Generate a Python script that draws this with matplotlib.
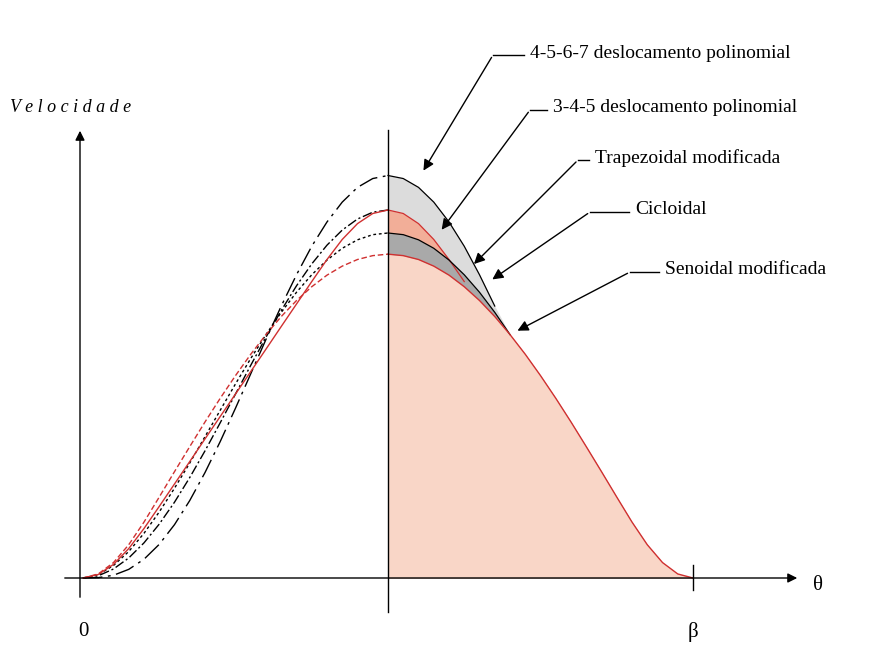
import numpy as np
import matplotlib.pyplot as plt

# normalised cam angle theta/beta, sampled every 0.025
t = np.linspace(0, 1, 41)

def sym(v):
    return np.array(v + v[-2::-1])

v4567 = sym([0.0, 0.002, 0.015, 0.047, 0.102, 0.183, 0.290, 0.421, 0.573, 0.742, 0.923,
             1.110, 1.297, 1.478, 1.648, 1.803, 1.935, 2.043, 2.123, 2.171, 2.1875])
v345 = sym([0.0, 0.018, 0.068, 0.144, 0.243, 0.359, 0.488, 0.625, 0.768, 0.912, 1.055,
            1.193, 1.323, 1.444, 1.553, 1.648, 1.728, 1.792, 1.838, 1.866, 1.875])
vtrap = sym([0.0, 0.019, 0.074, 0.160, 0.269, 0.389, 0.511, 0.633, 0.756, 0.878, 1.0,
             1.122, 1.244, 1.367, 1.489, 1.611, 1.731, 1.840, 1.926, 1.981, 2.0])
vcyc = sym([0.0, 0.012, 0.049, 0.109, 0.191, 0.293, 0.412, 0.546, 0.691, 0.844, 1.0,
            1.156, 1.309, 1.454, 1.588, 1.707, 1.809, 1.891, 1.951, 1.988, 2.0])
vsin = sym([0.0, 0.022, 0.084, 0.181, 0.304, 0.440, 0.578, 0.714, 0.848, 0.977, 1.100,
            1.216, 1.323, 1.421, 1.508, 1.583, 1.646, 1.695, 1.731, 1.752, 1.760])

labels = ["4-5-6-7 deslocamento polinomial", "3-4-5 deslocamento polinomial",
          "Trapezoidal modificada", "Cicloidal", "Senoidal modificada"]

W, H = 894, 668
X0, XS, Y0, YS = 83, 610, 578, 184

def d(px, py):
    return ((px - X0) / XS, (Y0 - py) / YS)

fig = plt.figure(figsize=(W / 100, H / 100), dpi=100)
ax = fig.add_axes([0, 0, 1, 1])
ax.set_xlim(-X0 / XS, (W - X0) / XS)
ax.set_ylim(-(H - Y0) / YS, Y0 / YS)
ax.axis("off")
serif = "Liberation Serif"

left = t <= 0.5
right = t >= 0.5

# left half: line styles
ax.plot(t[left], v4567[left], color="k", lw=1, dashes=(14, 4, 2, 4))
ax.plot(t[left], v345[left], color="k", lw=1, dashes=(2, 2))
ax.plot(t[left], vcyc[left], color="k", lw=1, dashes=(7, 2, 1.5, 2))
ax.plot(t[left], vtrap[left], color="#d03030", lw=1)
ax.plot(t[left], vsin[left], color="#d03030", lw=1, dashes=(4, 2))

# right half: filled regions, only where above the modified sine curve
tr = t[right]
for v, c in [(v4567, "#dcdcdc"), (vtrap, "#f2ae98"), (v345, "#a9a9a9")]:
    vr = v[right]
    top = np.maximum(vr, vsin[right])
    ax.fill_between(tr, 0, top, color=c, lw=0)
ax.fill_between(tr, 0, vsin[right], color="#f9d6c7", lw=0)
for v, c in [(v4567, "k"), (vtrap, "#d03030"), (v345, "k")]:
    vr = v[right]
    m = vr >= vsin[right] - 0.01
    m &= tr <= 0.72
    ax.plot(tr[m], vr[m], color=c, lw=0.9)
ax.plot(tr, vsin[right], color="#d03030", lw=1)

# axes
ap = dict(arrowstyle="-|>", color="k", lw=1, mutation_scale=14)
ax.annotate("", xy=d(800, 578), xytext=d(62, 578), arrowprops=ap)
ax.annotate("", xy=d(80, 128), xytext=d(80, 600), arrowprops=ap)
ax.plot(*zip(d(388, 130), d(388, 612)), color="k", lw=1)
ax.plot(*zip(d(693, 565), d(693, 590)), color="k", lw=1)
ax.text(*d(83, 632), "0", fontsize=15, family=serif, ha="center", va="center")
ax.text(*d(693, 632), "β", fontsize=15, family=serif, ha="center", va="center")
ax.text(*d(818, 585), "θ", fontsize=15, family=serif, ha="center", va="center")
ax.text(*d(10, 107), "V e l o c i d a d e", fontsize=13, family=serif,
        style="italic", ha="left", va="center")

# labels with leaders
lab_pos = [(530, 53), (553, 108), (595, 158), (635, 210), (665, 270)]
elbows = [493, 530, 578, 590, 630]
tips = [(422, 173), (440, 232), (472, 266), (490, 281), (515, 332)]
for lab, (lx, ly), e0, (tx, ty) in zip(labels, lab_pos, elbows, tips):
    ax.text(*d(lx, ly), lab, fontsize=14, family=serif, ha="left", va="center")
    ax.plot(*zip(d(e0, ly + 2), d(lx - 6, ly + 2)), color="k", lw=1)
    ax.annotate("", xy=d(tx, ty), xytext=d(e0, ly + 2),
                arrowprops=dict(arrowstyle="-|>", color="k", lw=1, mutation_scale=16))

fig.savefig("out.png", dpi=100)
